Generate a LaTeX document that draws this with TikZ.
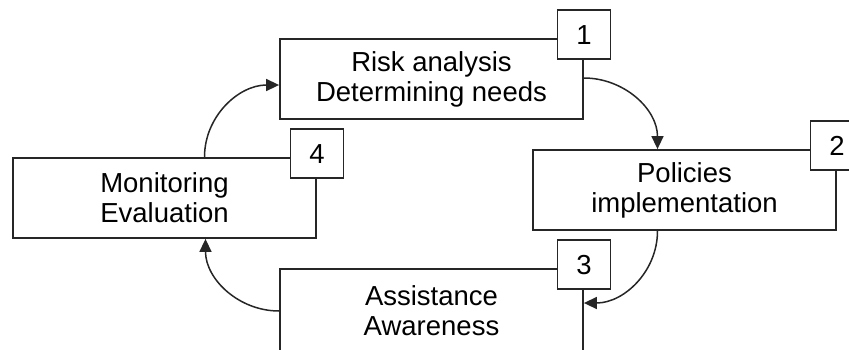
\documentclass[tikz,border=0pt]{standalone}
\usepackage{fontspec}
\setmainfont{Liberation Sans}
\usetikzlibrary{arrows.meta}
\begin{document}
\begin{tikzpicture}[x=1pt,y=-1pt,
  box/.style={draw=black!85,line width=1.8pt,fill=white,rectangle,inner sep=0pt,
    minimum width=303pt,minimum height=80pt,align=center,
    font=\fontsize{27.5}{30}\selectfont},
  numbox/.style={draw=black!85,line width=1.8pt,fill=white,rectangle,inner sep=0pt,
    minimum width=53pt,minimum height=49pt,font=\fontsize{27.5}{30}\selectfont},
  conn/.style={draw=black!85,line width=1.5pt,-{Triangle[length=13pt,width=12pt]}}]
\path[use as bounding box,clip] (0,0) rectangle (849,349);
\node[box] (b1) at (431.5,79) {Risk analysis\\Determining needs};
\node[box] (b2) at (684.5,190) {Policies\\implementation};
\node[box,minimum height=84pt] (b3) at (431.5,311) {Assistance\\Awareness};
\node[box] (b4) at (164.5,198) {Monitoring\\Evaluation};
\node[numbox] (n1) at ([yshift=3.5pt]b1.north east) {1};
\node[numbox] (n2) at ([yshift=3.5pt]b2.north east) {2};
\node[numbox] (n3) at ([yshift=3.5pt]b3.north east) {3};
\node[numbox] (n4) at ([yshift=3.5pt]b4.north east) {4};
\draw[conn] ([xshift=40pt]b4.north) to[out=90,in=180] ([yshift=-6pt]b1.west);
\draw[conn] ([yshift=1pt]b1.east) to[out=0,in=90] ([xshift=-27pt]b2.north);
\draw[conn] ([xshift=-27pt]b2.south) to[out=-90,in=0] ([yshift=8pt]b3.east);
\draw[conn] ([yshift=0pt]b3.west) to[out=180,in=-90] ([xshift=41pt]b4.south);
\end{tikzpicture}
\end{document}
